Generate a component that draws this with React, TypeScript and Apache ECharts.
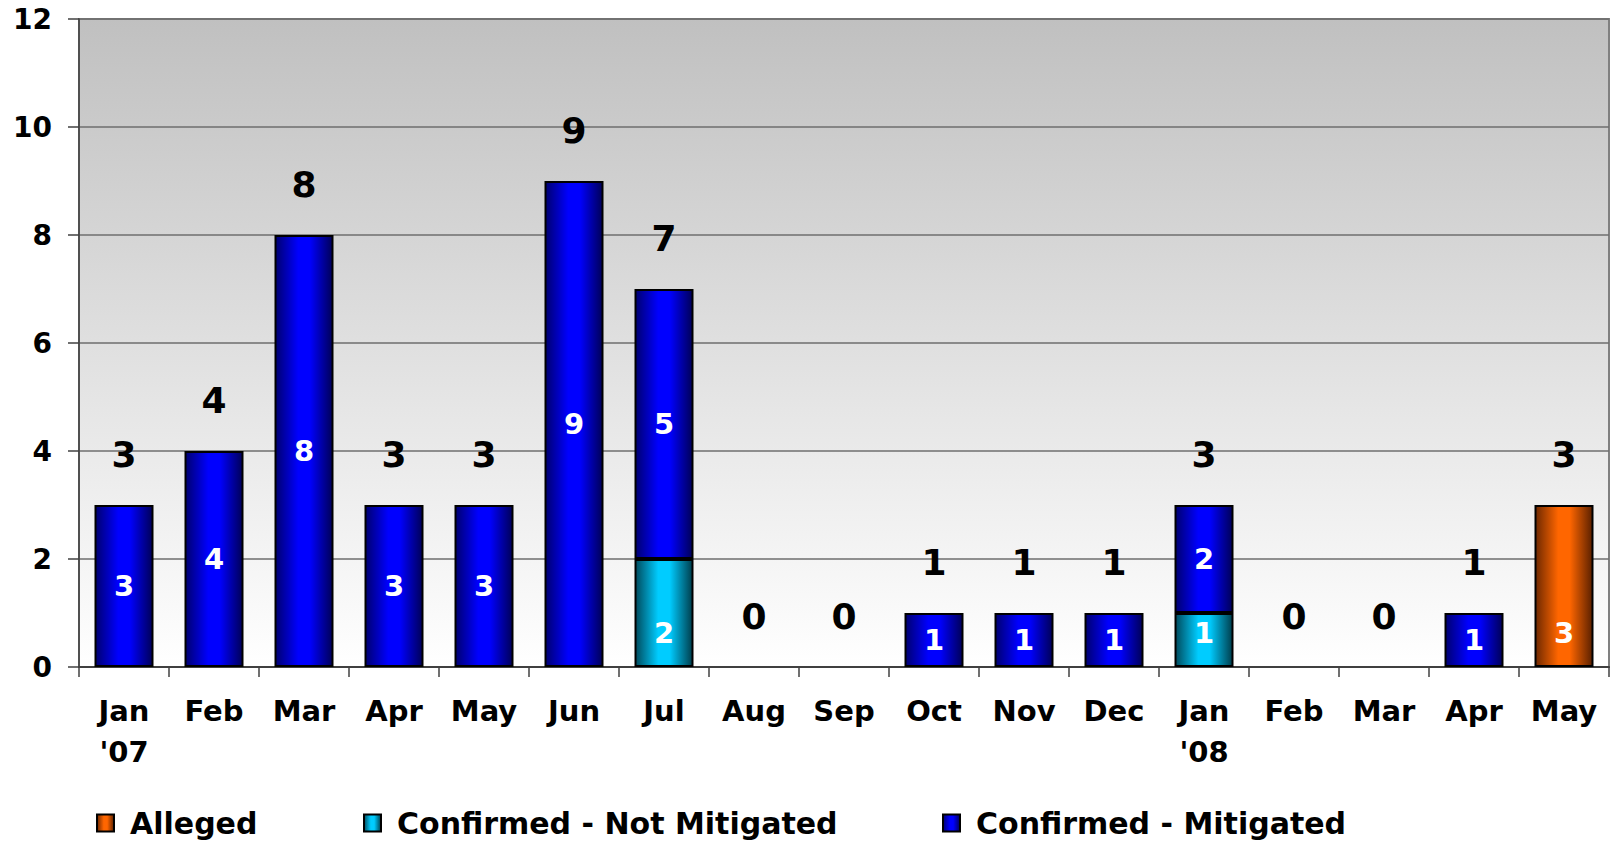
import React, { useEffect, useRef } from "react";
import * as echarts from "echarts";

const categories = [
  "Jan\n'07", "Feb", "Mar", "Apr", "May", "Jun", "Jul", "Aug", "Sep",
  "Oct", "Nov", "Dec", "Jan\n'08", "Feb", "Mar", "Apr", "May",
];
const alleged = [0, 0, 0, 0, 0, 0, 0, 0, 0, 0, 0, 0, 0, 0, 0, 0, 3];
const confirmedNotMitigated = [0, 0, 0, 0, 0, 0, 2, 0, 0, 0, 0, 0, 1, 0, 0, 0, 0];
const confirmedMitigated = [3, 4, 8, 3, 3, 9, 5, 0, 0, 1, 1, 1, 2, 0, 0, 1, 0];
const totals = [3, 4, 8, 3, 3, 9, 7, 0, 0, 1, 1, 1, 3, 0, 0, 1, 3];
const yMin = 0;
const yMax = 12;
const yStep = 2;

const FONT = "'DejaVu Sans', 'Liberation Sans', sans-serif";

const grad = (edgeL: string, mid: string, edgeR: string) =>
  new echarts.graphic.LinearGradient(0, 0, 1, 0, [
    { offset: 0, color: edgeL },
    { offset: 0.4, color: mid },
    { offset: 0.6, color: mid },
    { offset: 1, color: edgeR },
  ]);

const nz = (arr: number[]) => arr.map((v) => (v === 0 ? "-" : v));

export default function App() {
  const ref = useRef<HTMLDivElement>(null);
  useEffect(() => {
    if (!ref.current) return;
    const chart = echarts.init(ref.current, null, { renderer: "svg" });
    const innerLabel = {
      show: true,
      color: "#ffffff",
      fontFamily: FONT,
      fontWeight: "bold" as const,
      fontSize: 29,
      lineHeight: 29,
    };
    const barBase = {
      type: "bar" as const,
      stack: "total",
      barWidth: 59,
      silent: true,
    };
    const legendCommon = {
      top: 803,
      icon: "rect",
      itemWidth: 17,
      itemHeight: 17,
      selectedMode: false,
      textStyle: {
        fontFamily: FONT,
        fontWeight: "bold" as const,
        fontSize: 30,
        color: "#000",
        padding: [0, 0, 0, 11],
      },
    };
    chart.setOption({
      animation: false,
      backgroundColor: "#ffffff",
      grid: {
        left: 79,
        right: 4,
        top: 19,
        bottom: 175,
        show: true,
        borderColor: "#808080",
        borderWidth: 2,
        backgroundColor: new echarts.graphic.LinearGradient(0, 0, 0, 1, [
          { offset: 0, color: "#c0c0c0" },
          { offset: 1, color: "#ffffff" },
        ]),
      },
      legend: [
        { ...legendCommon, left: 91, data: ["Alleged"] },
        { ...legendCommon, left: 358, data: ["Confirmed - Not Mitigated"] },
        { ...legendCommon, left: 937, data: ["Confirmed - Mitigated"] },
      ],
      xAxis: {
        type: "category",
        data: categories,
        axisLine: { show: true, lineStyle: { color: "#404040", width: 2 } },
        axisTick: { show: true, length: 10, lineStyle: { color: "#404040", width: 1.5 } },
        axisLabel: {
          interval: 0,
          margin: 23,
          color: "#000",
          fontFamily: FONT,
          fontWeight: "bold",
          fontSize: 29,
          lineHeight: 41,
        },
        splitLine: { show: false },
      },
      yAxis: {
        type: "value",
        min: yMin,
        max: yMax,
        interval: yStep,
        axisLine: { show: true, lineStyle: { color: "#404040", width: 1.5 } },
        axisTick: { show: true, length: 11, lineStyle: { color: "#404040", width: 1.5 } },
        axisLabel: {
          margin: 27,
          color: "#000",
          fontFamily: FONT,
          fontWeight: "bold",
          fontSize: 28,
        },
        splitLine: { show: true, lineStyle: { color: "#6e6e6e", width: 1.5 } },
      },
      series: [
        {
          ...barBase,
          name: "Confirmed - Not Mitigated",
          data: nz(confirmedNotMitigated),
          itemStyle: {
            color: grad("#004a5c", "#00ccff", "#003d4c"),
            borderColor: "#000",
            borderWidth: 2,
          },
          label: { ...innerLabel, position: "insideBottom", distance: 20 },
        },
        {
          ...barBase,
          name: "Confirmed - Mitigated",
          data: nz(confirmedMitigated),
          itemStyle: {
            color: grad("#000070", "#0000ff", "#000058"),
            borderColor: "#000",
            borderWidth: 2,
          },
          label: { ...innerLabel, position: "inside" },
        },
        {
          ...barBase,
          name: "Alleged",
          data: nz(alleged),
          itemStyle: {
            color: grad("#6e2800", "#ff6600", "#5a2000"),
            borderColor: "#000",
            borderWidth: 2,
          },
          label: { ...innerLabel, position: "insideBottom", distance: 20 },
        },
        {
          type: "scatter",
          name: "Total",
          data: totals,
          symbolSize: 1,
          silent: true,
          z: 10,
          itemStyle: { color: "#ffffff", opacity: 0 },
          label: {
            show: true,
            position: "top",
            distance: 32,
            color: "#000000",
            opacity: 1,
            textBorderWidth: 0,
            fontFamily: FONT,
            fontWeight: "bold",
            fontSize: 36,
          },
        },
      ],
    });
    return () => chart.dispose();
  }, []);
  return (
    <div
      ref={ref}
      style={{ position: "absolute", left: 0, top: 0, width: 1613, height: 842 }}
    />
  );
}
